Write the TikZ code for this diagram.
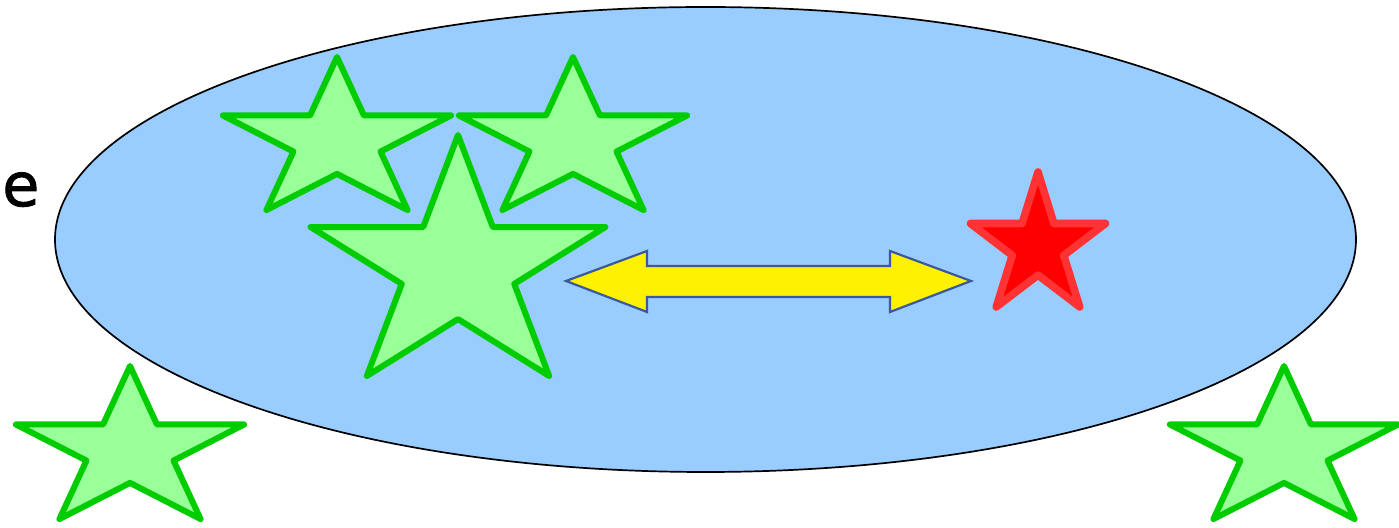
\documentclass[tikz,border=0pt]{standalone}
\usepackage{fontspec}
\newfontfamily\efont[FakeBold=1.5]{DejaVu Sans}
\definecolor{ellfill}{HTML}{99CCFF}
\definecolor{starfill}{HTML}{99FF99}
\definecolor{starline}{HTML}{00CC00}
\definecolor{redfill}{HTML}{FF0000}
\definecolor{redline}{HTML}{FF3333}
\definecolor{arrline}{HTML}{3A5A9A}
\tikzset{
  pics/pstar/.style args={#1/#2}{code={
    \path[pic actions] (0,-#2) -- (0.2245*#1,-0.309*#2) -- (0.951*#1,-0.309*#2)
      -- (0.363*#1,0.118*#2) -- (0.588*#1,0.809*#2) -- (0,0.382*#2)
      -- (-0.588*#1,0.809*#2) -- (-0.363*#1,0.118*#2) -- (-0.951*#1,-0.309*#2)
      -- (-0.2245*#1,-0.309*#2) -- cycle;
  }},
  greenstar/.style={fill=starfill, draw=starline, line width=3pt, line join=round},
  redstar/.style={fill=redfill, draw=redline, line width=3.8pt, line join=round},
  blockarrow/.style={fill=yellow, draw=arrline, line width=1.1pt, line join=miter},
  ellipsestyle/.style={fill=ellfill, draw=black, line width=0.85pt}
}
\begin{document}
\begin{tikzpicture}[x=0.5pt,y=-0.5pt]
\useasboundingbox (0,0) rectangle (1399,528);
% ellipse
\path[ellipsestyle] (705.5,239.5) ellipse [x radius=650.5, y radius=232.5];
% text
\node[anchor=base west, inner sep=0pt, font=\efont\fontsize{30pt}{36pt}\selectfont] (etext) at (2,206) {e};
% stars
\pic[greenstar] (s1) at (337,141.6) {pstar=120/84.6};
\pic[greenstar] (s2) at (573,141.6) {pstar=120/84.6};
\pic[greenstar] (s3) at (458,268.2) {pstar=155/133.2};
\pic[greenstar] (s4) at (130,450.6) {pstar=120/84.6};
\pic[greenstar] (s5) at (1284,450.6) {pstar=120/84.6};
\pic[redstar] (s6) at (1038,246.6) {pstar=71/74.6};
% double block arrow
\path[blockarrow] (566,281) -- (647,251) -- (647,266) -- (890,266) -- (890,251)
  -- (971,281) -- (890,312) -- (890,297) -- (647,297) -- (647,312) -- cycle;
\end{tikzpicture}
\end{document}
